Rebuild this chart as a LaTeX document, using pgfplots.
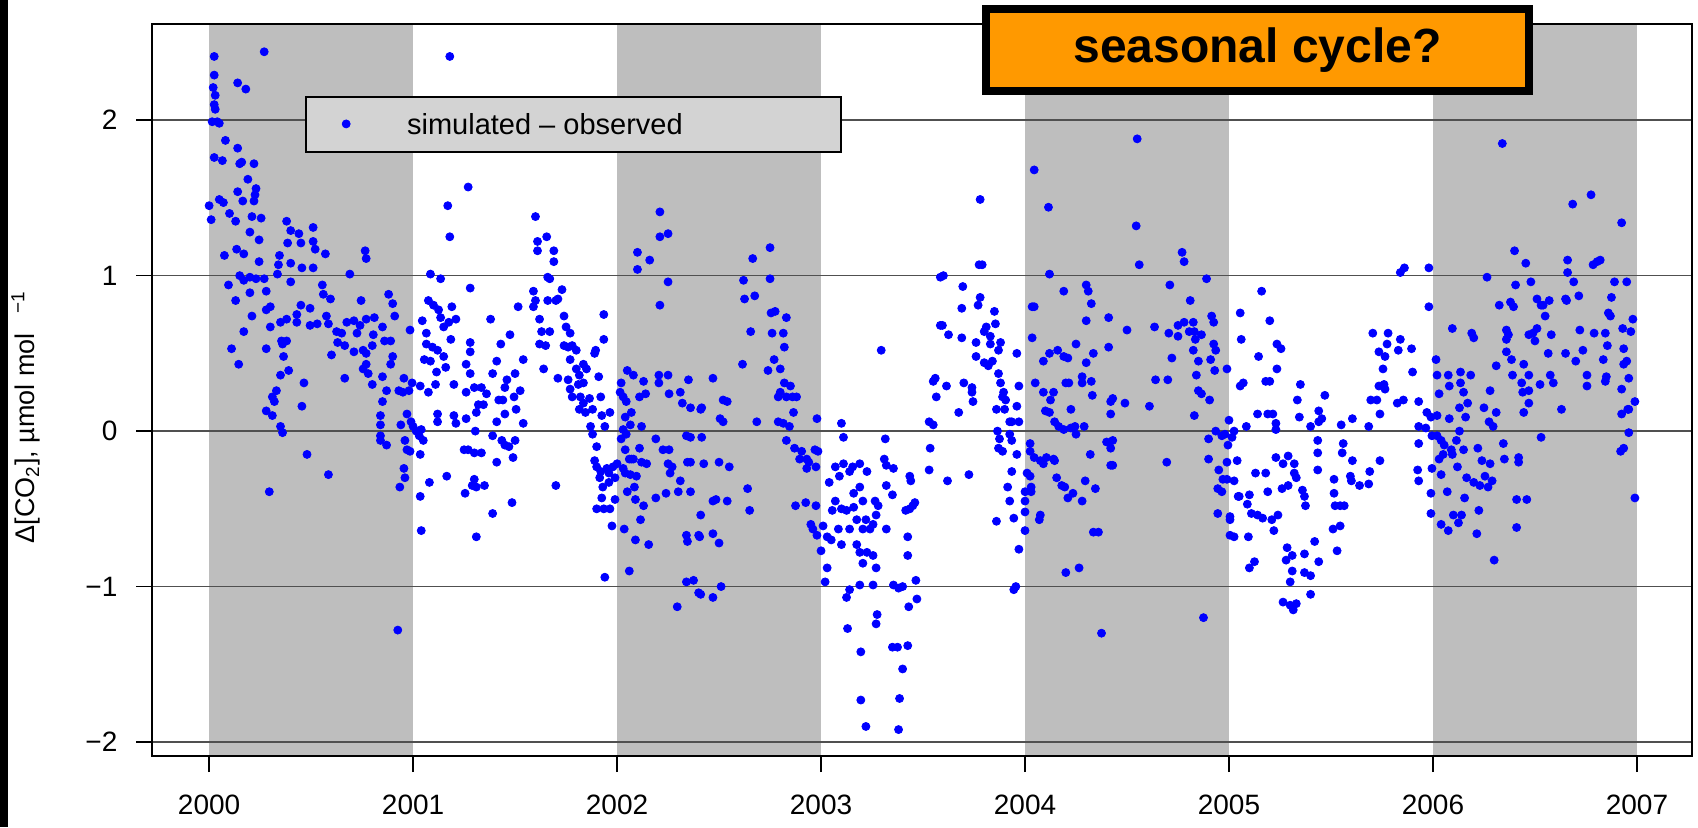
\documentclass[border=0pt]{standalone}
\usepackage{pgfplots}
\pgfplotsset{compat=1.18}
\usepackage{fontspec}
\setmainfont{Liberation Sans}

\definecolor{band}{RGB}{190,190,190}
\definecolor{legfill}{RGB}{211,211,211}
\definecolor{gridc}{RGB}{80,80,80}
\definecolor{orangebox}{RGB}{255,153,0}

\begin{document}
\begin{tikzpicture}
\path[use as bounding box] (-76pt,-35.5pt) rectangle (773pt,378pt);
\fill[black] (-76pt,-35.5pt) rectangle (-72pt,378pt);
\begin{axis}[
  at={(0,0)}, anchor=south west,
  scale only axis, width=770pt, height=366.1pt,
  xmin=1999.72, xmax=2007.27, ymin=-2.09, ymax=2.62,
  xtick={2000,2001,2002,2003,2004,2005,2006,2007},
  xticklabels={2000,2001,2002,2003,2004,2005,2006,2007},
  ytick={-2,-1,0,1,2},
  yticklabels={−2,−1,0,1,2},
  tick align=outside, tick pos=left, major tick length=8pt,
  tick style={black, line width=0.8pt},
  axis line style={black, line width=1pt},
  xticklabel style={font=\fontsize{14}{16}\selectfont, yshift=-8pt},
  yticklabel style={font=\fontsize{14}{16}\selectfont, xshift=-5.8pt},
  axis on top,
  clip=false,
]
% shaded calendar years
\fill[band] (axis cs:2000,-2.09) rectangle (axis cs:2001,2.62);
\fill[band] (axis cs:2002,-2.09) rectangle (axis cs:2003,2.62);
\fill[band] (axis cs:2004,-2.09) rectangle (axis cs:2005,2.62);
\fill[band] (axis cs:2006,-2.09) rectangle (axis cs:2007,2.62);
% horizontal reference lines
\draw[gridc, line width=0.75pt] (axis cs:1999.72,-2) -- (axis cs:2007.27,-2);
\draw[gridc, line width=0.75pt] (axis cs:1999.72,-1) -- (axis cs:2007.27,-1);
\draw[gridc, line width=0.75pt] (axis cs:1999.72,0) -- (axis cs:2007.27,0);
\draw[gridc, line width=0.75pt] (axis cs:1999.72,1) -- (axis cs:2007.27,1);
\draw[gridc, line width=0.75pt] (axis cs:1999.72,2) -- (axis cs:2007.27,2);
% legend
\draw[fill=legfill, line width=1pt] (axis cs:2000.475,1.795) rectangle (axis cs:2003.098,2.149);
\addplot[only marks, mark=*, mark size=2pt, color=blue, forget plot] coordinates {(2000.672,1.976)};
\node[anchor=west, font=\fontsize{14.5}{16}\selectfont] at (axis cs:2000.936,1.976) {simulated – observed};
% simulated minus observed CO2
\addplot[only marks, mark=*, mark size=2pt, color=blue] coordinates {
(2000.025,2.41) (2000.025,2.29) (2000.02,2.21) (2000.03,2.16) (2000.025,2.10) (2000.03,2.07)
(2000.27,2.44) (2000.14,2.24) (2000.18,2.20) (2000.015,1.99) (2000.04,1.99) (2000.05,1.98)
(2000.08,1.87) (2000.14,1.82) (2000.025,1.76) (2000.065,1.74) (2000.15,1.72) (2000.22,1.72)
(2000.16,1.73) (2000.19,1.62) (2000.23,1.56) (2000.225,1.52) (2000.14,1.54) (2000.165,1.48)
(2000.22,1.48) (2000.0,1.45) (2000.05,1.49) (2000.07,1.47) (2000.01,1.36) (2000.10,1.40)
(2000.13,1.35) (2000.21,1.38) (2000.255,1.37) (2000.20,1.28) (2000.245,1.23) (2000.075,1.13)
(2000.135,1.17) (2000.17,1.14) (2000.245,1.09) (2000.095,0.94) (2000.15,1.00) (2000.20,0.99)
(2000.23,0.98) (2000.27,0.98) (2000.17,0.97) (2000.20,0.89) (2000.13,0.84) (2000.21,0.74)
(2000.17,0.64) (2000.11,0.53) (2000.145,0.43)
(2000.38,1.35) (2000.40,1.29) (2000.51,1.31) (2000.44,1.27) (2000.45,1.21) (2000.51,1.22)
(2000.385,1.21) (2000.57,1.14) (2000.52,1.17) (2000.345,1.13) (2000.34,1.07) (2000.40,1.08)
(2000.455,1.05) (2000.51,1.05) (2000.335,1.01) (2000.40,0.96) (2000.28,0.90) (2000.30,0.80)
(2000.28,0.78) (2000.38,0.72) (2000.35,0.70) (2000.43,0.75) (2000.45,0.81) (2000.495,0.79)
(2000.43,0.70) (2000.495,0.68) (2000.53,0.69) (2000.555,0.94) (2000.56,0.88) (2000.595,0.85)
(2000.575,0.74) (2000.585,0.69) (2000.30,0.67) (2000.28,0.53) (2000.355,0.58) (2000.38,0.58)
(2000.36,0.56) (2000.365,0.48) (2000.39,0.39) (2000.35,0.36) (2000.465,0.31) (2000.33,0.26)
(2000.31,0.22) (2000.32,0.19) (2000.28,0.13) (2000.31,0.10) (2000.35,0.03) (2000.36,-0.01)
(2000.455,0.16) (2000.48,-0.15) (2000.585,-0.28) (2000.295,-0.39)
(2000.69,1.01) (2000.765,1.16) (2000.77,1.11) (2000.745,0.84) (2000.675,0.70) (2000.71,0.71)
(2000.74,0.68) (2000.77,0.72) (2000.81,0.73) (2000.625,0.64) (2000.65,0.63) (2000.63,0.57)
(2000.665,0.55) (2000.60,0.49) (2000.71,0.51) (2000.725,0.63) (2000.755,0.52) (2000.77,0.50)
(2000.80,0.55) (2000.805,0.62) (2000.755,0.40) (2000.78,0.37) (2000.77,0.43) (2000.80,0.30)
(2000.665,0.34) (2000.85,0.67) (2000.86,0.58) (2000.88,0.88) (2000.90,0.82) (2000.91,0.74)
(2000.89,0.58) (2000.90,0.48) (2000.89,0.43) (2000.85,0.35) (2000.87,0.26) (2000.85,0.19)
(2000.84,0.10) (2000.84,0.04) (2000.84,-0.03) (2000.87,-0.09) (2000.84,-0.06) (2000.93,0.26)
(2000.955,0.34) (2000.95,0.25) (2000.98,0.26) (2000.995,0.31) (2001.035,0.29) (2000.94,0.04)
(2000.97,0.11) (2000.99,0.06) (2001.00,0.03) (2001.015,0.00) (2001.03,-0.03) (2001.04,0.01)
(2001.05,-0.06) (2000.96,-0.06) (2000.97,-0.12) (2000.985,-0.13) (2000.955,-0.24) (2000.935,-0.36)
(2000.96,-0.30) (2000.985,0.65) (2001.035,-0.15) (2001.035,-0.42) (2001.08,-0.33) (2001.04,-0.64)
(2001.165,-0.29) (2000.925,-1.28) (2001.18,2.41) (2001.17,1.45) (2001.18,1.25) (2001.085,1.01)
(2001.135,0.98) (2001.075,0.84) (2001.10,0.81) (2001.125,0.78) (2001.19,0.80) (2001.045,0.71)
(2001.065,0.63) (2001.135,0.73) (2001.15,0.67) (2001.175,0.70) (2001.21,0.72) (2001.065,0.56)
(2001.095,0.54) (2001.12,0.52) (2001.15,0.48) (2001.185,0.59) (2001.055,0.46) (2001.085,0.45)
(2001.115,0.38) (2001.16,0.41) (2001.20,0.30) (2001.11,0.30) (2001.075,0.25) (2001.12,0.11)
(2001.12,0.06) (2001.20,0.10) (2001.21,0.05)
(2001.27,1.57) (2001.28,0.92) (2001.28,0.57) (2001.28,0.51) (2001.26,0.43) (2001.28,0.37)
(2001.30,0.28) (2001.26,0.25) (2001.335,0.28) (2001.38,0.72) (2001.43,0.56) (2001.475,0.62)
(2001.515,0.80) (2001.54,0.46) (2001.41,0.45) (2001.39,0.37) (2001.36,0.24) (2001.32,0.17)
(2001.345,0.17) (2001.46,0.33) (2001.50,0.37) (2001.525,0.26) (2001.495,0.22) (2001.42,0.20)
(2001.44,0.20) (2001.45,0.28) (2001.54,0.05) (2001.505,0.14) (2001.45,0.11) (2001.41,0.06)
(2001.39,-0.03) (2001.435,-0.06) (2001.45,-0.09) (2001.47,-0.10) (2001.50,-0.06) (2001.49,-0.17)
(2001.41,-0.20) (2001.305,0.00) (2001.26,0.08) (2001.31,0.12) (2001.25,-0.12) (2001.27,-0.12)
(2001.30,-0.14) (2001.335,-0.14) (2001.255,-0.40) (2001.30,-0.31) (2001.29,-0.35) (2001.31,-0.36)
(2001.35,-0.35) (2001.39,-0.53) (2001.485,-0.46) (2001.31,-0.68)
(2001.60,1.38) (2001.61,1.22) (2001.655,1.25) (2001.61,1.16) (2001.69,1.16) (2001.69,1.09)
(2001.59,0.90) (2001.60,0.84) (2001.59,0.80) (2001.66,0.99) (2001.67,0.98) (2001.66,0.84)
(2001.70,0.84) (2001.71,0.85) (2001.73,0.91) (2001.62,0.72) (2001.63,0.64) (2001.67,0.64)
(2001.62,0.56) (2001.65,0.55) (2001.64,0.40) (2001.71,0.34) (2001.74,0.74) (2001.75,0.67)
(2001.77,0.63) (2001.74,0.55) (2001.76,0.54) (2001.78,0.55) (2001.80,0.52) (2001.77,0.46)
(2001.80,0.40) (2001.815,0.36) (2001.76,0.33) (2001.77,0.27) (2001.835,0.43) (2001.85,0.40)
(2001.81,0.30) (2001.835,0.31) (2001.78,0.22) (2001.82,0.22) (2001.835,0.18) (2001.865,0.21)
(2001.815,0.14) (2001.845,0.12) (2001.88,0.14) (2001.895,0.52) (2001.89,0.50) (2001.935,0.75)
(2001.935,0.59) (2001.91,0.35) (2001.92,0.22) (2001.87,0.03) (2001.88,-0.02) (2001.90,-0.10)
(2001.925,0.10) (2001.94,0.03) (2001.965,0.12) (2001.89,-0.19) (2001.90,-0.23) (2001.92,-0.26)
(2001.95,-0.24) (2001.96,-0.27) (2002.00,-0.21) (2001.98,-0.23) (2001.915,-0.30) (2001.93,-0.36)
(2001.96,-0.33) (2001.99,-0.30) (2001.925,-0.43) (2001.90,-0.50) (2001.935,-0.50) (2001.965,-0.50)
(2001.99,-0.44) (2001.975,-0.61) (2001.94,-0.94) (2001.70,-0.35)
(2002.10,1.15) (2002.10,1.04) (2002.16,1.10) (2002.21,1.41) (2002.21,1.25) (2002.25,1.27)
(2002.25,0.96) (2002.21,0.81) (2002.02,0.31) (2002.05,0.39) (2002.08,0.36) (2002.13,0.32)
(2002.205,0.36) (2002.25,0.36) (2002.14,0.24) (2002.11,0.22) (2002.205,0.31) (2002.255,0.24)
(2002.31,0.25) (2002.35,0.33) (2002.32,0.18) (2002.36,0.15) (2002.41,0.14) (2002.015,0.25)
(2002.03,0.22) (2002.045,0.19) (2002.07,0.12) (2002.04,0.09) (2002.03,0.01) (2002.045,-0.02)
(2002.065,0.04) (2002.12,0.03) (2002.19,-0.05) (2002.11,-0.11) (2002.08,-0.18) (2002.02,-0.05)
(2002.04,-0.12) (2002.07,-0.18) (2002.06,-0.18) (2002.03,-0.24) (2002.04,-0.27) (2002.065,-0.28)
(2002.095,-0.29) (2002.12,-0.20) (2002.145,-0.21) (2002.225,-0.12) (2002.255,-0.12) (2002.27,-0.23)
(2002.26,-0.27) (2002.25,-0.21) (2002.345,-0.20) (2002.36,-0.20) (2002.34,-0.03) (2002.36,-0.04)
(2002.085,-0.36) (2002.05,-0.39) (2002.09,-0.44) (2002.13,-0.48) (2002.115,-0.57) (2002.19,-0.43)
(2002.24,-0.40) (2002.30,-0.39) (2002.36,-0.39) (2002.31,-0.32) (2002.035,-0.63) (2002.09,-0.70)
(2002.155,-0.73) (2002.34,-0.67) (2002.345,-0.71) (2002.40,-0.67) (2002.06,-0.90) (2002.34,-0.97)
(2002.375,-0.96) (2002.40,-1.04) (2002.295,-1.13)
(2002.47,0.34) (2002.415,0.15) (2002.52,0.20) (2002.54,0.19) (2002.505,0.08) (2002.52,0.06)
(2002.415,-0.04) (2002.425,-0.21) (2002.50,-0.20) (2002.55,-0.23) (2002.41,-0.54) (2002.47,-0.45)
(2002.485,-0.44) (2002.54,-0.45) (2002.405,-0.68) (2002.47,-0.66) (2002.50,-0.72) (2002.41,-1.05)
(2002.47,-1.07) (2002.51,-1.00) (2002.685,0.06) (2002.64,-0.37) (2002.65,-0.51)
(2002.75,1.18) (2002.665,1.11) (2002.75,0.98) (2002.62,0.97) (2002.625,0.85) (2002.675,0.87)
(2002.655,0.64) (2002.615,0.43) (2002.755,0.76) (2002.775,0.77) (2002.83,0.73) (2002.76,0.63)
(2002.815,0.63) (2002.82,0.54) (2002.77,0.46) (2002.74,0.39) (2002.80,0.40) (2002.82,0.31)
(2002.80,0.25) (2002.85,0.29) (2002.79,0.22) (2002.83,0.22) (2002.86,0.22) (2002.88,0.22)
(2002.865,0.12) (2002.79,0.06) (2002.815,0.05) (2002.845,0.03) (2002.83,-0.06) (2002.87,-0.11)
(2002.905,-0.13) (2002.93,-0.18) (2002.93,-0.24) (2002.895,-0.18) (2002.97,-0.12) (2002.985,-0.13)
(2002.975,-0.23) (2002.94,-0.20) (2002.98,0.08) (2002.875,-0.48) (2002.925,-0.46) (2002.975,-0.48)
(2002.95,-0.60) (2002.96,-0.63) (2002.98,-0.67) (2003.01,-0.61) (2003.03,-0.68) (2003.00,-0.77)
(2003.03,-0.88) (2003.02,-0.97) (2003.04,-0.33) (2003.07,-0.23) (2003.11,-0.21) (2003.155,-0.23)
(2003.19,-0.21) (2003.225,-0.26) (2003.09,-0.29) (2003.14,-0.26) (2003.19,-0.36) (2003.07,-0.45)
(2003.10,-0.50) (2003.125,-0.51) (2003.16,-0.49) (2003.055,-0.51) (2003.05,-0.70) (2003.085,-0.63)
(2003.10,-0.73) (2003.14,-0.63) (2003.175,-0.57) (2003.175,-0.73) (2003.205,-0.63) (2003.24,-0.63)
(2003.10,0.05) (2003.11,-0.04) (2003.16,-0.40) (2003.205,-0.45) (2003.22,-0.57) (2003.265,-0.45)
(2003.28,-0.48) (2003.27,-0.54) (2003.32,-0.63) (2003.255,-0.60) (2003.19,-0.78) (2003.225,-0.78)
(2003.255,-0.80) (2003.205,-0.85) (2003.27,-0.88) (2003.14,-1.02) (2003.125,-1.07) (2003.19,-0.99)
(2003.255,-0.99) (2003.355,-0.99) (2003.38,-1.01) (2003.40,-1.00) (2003.275,-1.18) (2003.27,-1.24)
(2003.13,-1.27) (2003.195,-1.42) (2003.195,-1.73) (2003.22,-1.90) (2003.35,-1.39) (2003.375,-1.39)
(2003.425,-1.38) (2003.40,-1.53) (2003.385,-1.72) (2003.38,-1.92) (2003.295,0.52) (2003.315,-0.05)
(2003.31,-0.18) (2003.32,-0.22) (2003.355,-0.24) (2003.35,-0.41) (2003.32,-0.35) (2003.425,-0.68)
(2003.425,-0.80) (2003.43,-1.13) (2003.465,-0.96) (2003.47,-1.08) (2003.415,-0.51) (2003.435,-0.50)
(2003.45,-0.48) (2003.46,-0.46) (2003.44,-0.32) (2003.435,-0.29) (2003.53,-0.25) (2003.535,-0.11)
(2003.53,0.06) (2003.55,0.04) (2003.56,0.34) (2003.55,0.32) (2003.565,0.22) (2003.585,0.99)
(2003.585,0.68)
(2003.60,1.00) (2003.695,0.93) (2003.69,0.79) (2003.78,1.49) (2003.775,1.07) (2003.79,1.07)
(2003.78,0.86) (2003.77,0.81) (2003.85,0.77) (2003.595,0.68) (2003.625,0.62) (2003.69,0.60)
(2003.76,0.57) (2003.80,0.64) (2003.81,0.67) (2003.855,0.69) (2003.83,0.61) (2003.83,0.56)
(2003.88,0.57) (2003.87,0.52) (2003.76,0.48) (2003.80,0.44) (2003.82,0.42) (2003.84,0.45)
(2003.96,0.50) (2003.615,0.29) (2003.70,0.31) (2003.74,0.28) (2003.74,0.25) (2003.745,0.19)
(2003.675,0.12) (2003.87,0.37) (2003.88,0.31) (2003.895,0.25) (2003.905,0.20) (2003.89,0.22)
(2003.86,0.14) (2003.90,0.14) (2003.96,0.16) (2003.97,0.29) (2003.925,0.06) (2003.935,0.06)
(2003.97,0.06) (2003.865,0.00) (2003.875,-0.05) (2003.925,-0.02) (2003.935,-0.06) (2003.87,-0.11)
(2003.89,-0.13) (2003.96,-0.15) (2003.62,-0.32) (2003.725,-0.28) (2003.935,-0.26) (2003.915,-0.36)
(2003.925,-0.45) (2003.86,-0.58) (2003.945,-0.56) (2003.97,-0.76) (2003.945,-1.02) (2003.955,-1.00)
(2004.045,1.68) (2004.115,1.44) (2004.12,1.01) (2004.035,0.80) (2004.045,0.80) (2004.035,0.60)
(2004.09,0.45) (2004.12,0.50) (2004.16,0.52) (2004.19,0.90) (2004.30,0.94) (2004.31,0.90)
(2004.325,0.82) (2004.30,0.71) (2004.19,0.48) (2004.21,0.47) (2004.25,0.56) (2004.30,0.44)
(2004.335,0.50) (2004.41,0.73) (2004.41,0.54) (2004.50,0.65) (2004.05,0.31) (2004.09,0.25)
(2004.125,0.20) (2004.14,0.25) (2004.10,0.13) (2004.12,0.12) (2004.145,0.06) (2004.165,0.03)
(2004.19,0.01) (2004.20,0.31) (2004.215,0.31) (2004.225,0.14) (2004.28,0.31) (2004.28,0.35)
(2004.325,0.32) (2004.33,0.23) (2004.225,0.02) (2004.245,0.03) (2004.25,-0.02) (2004.29,0.03)
(2004.025,-0.08) (2004.025,-0.13) (2004.045,-0.17) (2004.075,-0.19) (2004.09,-0.21) (2004.105,-0.17)
(2004.01,-0.27) (2004.025,-0.29) (2004.00,-0.39) (2004.03,-0.36) (2004.03,-0.39) (2004.00,-0.45)
(2004.00,-0.52) (2004.00,-0.64) (2004.075,-0.54) (2004.07,-0.57) (2004.14,-0.18) (2004.145,-0.19)
(2004.155,-0.30) (2004.18,-0.35) (2004.195,-0.36) (2004.21,-0.43) (2004.235,-0.40) (2004.28,-0.45)
(2004.295,-0.32) (2004.345,-0.37) (2004.32,-0.15) (2004.335,-0.65) (2004.36,-0.65) (2004.20,-0.91)
(2004.265,-0.88) (2004.375,-1.30) (2004.40,-0.07) (2004.42,-0.11) (2004.43,-0.06) (2004.42,-0.22)
(2004.43,-0.22) (2004.42,0.19) (2004.43,0.21) (2004.49,0.18) (2004.42,0.11) (2004.55,1.88)
(2004.545,1.32) (2004.56,1.07) (2004.61,0.16) (2004.64,0.33) (2004.70,0.33) (2004.635,0.67)
(2004.705,0.63) (2004.72,0.47) (2004.71,0.94) (2004.695,-0.20) (2004.75,0.68) (2004.75,0.61)
(2004.77,1.15) (2004.78,1.09) (2004.81,0.84) (2004.89,0.98) (2004.78,0.70) (2004.825,0.70)
(2004.83,0.64) (2004.805,0.64) (2004.915,0.74) (2004.925,0.70) (2004.865,0.62) (2004.835,0.59)
(2004.825,0.52) (2004.85,0.45) (2004.925,0.56) (2004.935,0.52) (2004.91,0.46) (2004.93,0.39)
(2004.99,0.40) (2004.84,0.36) (2004.85,0.26) (2004.865,0.24) (2004.905,0.20) (2004.83,0.10)
(2004.875,-1.20) (2005.00,0.07) (2004.935,0.00) (2004.90,-0.05) (2004.90,-0.18) (2004.965,-0.03)
(2004.98,-0.02) (2004.995,-0.09) (2005.015,-0.04) (2005.025,0.00) (2004.95,-0.25) (2004.97,-0.31)
(2004.965,-0.39) (2004.945,-0.37) (2004.99,-0.20) (2004.99,-0.31) (2005.025,-0.32) (2005.05,-0.42)
(2005.005,-0.55) (2005.005,-0.57) (2005.025,-0.68) (2005.005,-0.67) (2004.945,-0.53) (2005.04,-0.19)
(2005.085,0.03) (2005.055,0.76) (2005.06,0.59) (2005.055,0.29) (2005.07,0.31) (2005.16,0.90)
(2005.145,0.48) (2005.20,0.71) (2005.235,0.56) (2005.255,0.53) (2005.235,0.40) (2005.18,0.32)
(2005.20,0.32) (2005.14,0.11) (2005.19,0.11) (2005.215,0.11) (2005.23,0.05) (2005.23,0.01)
(2005.23,-0.17) (2005.265,-0.21) (2005.29,-0.16) (2005.32,-0.21) (2005.32,-0.27) (2005.33,-0.30)
(2005.13,-0.27) (2005.18,-0.27) (2005.19,-0.39) (2005.26,-0.37) (2005.29,-0.35) (2005.045,-0.42)
(2005.10,-0.41) (2005.09,-0.47) (2005.11,-0.53) (2005.14,-0.54) (2005.165,-0.56) (2005.21,-0.57)
(2005.24,-0.54) (2005.22,-0.64) (2005.095,-0.68) (2005.125,-0.84) (2005.10,-0.88) (2005.285,-0.75)
(2005.28,-0.83) (2005.31,-0.80) (2005.31,-0.90) (2005.37,-0.79) (2005.37,-0.91) (2005.40,-0.93)
(2005.44,-0.84) (2005.42,-0.71) (2005.30,-0.97) (2005.265,-1.10) (2005.30,-1.12) (2005.315,-1.15)
(2005.33,-1.11) (2005.40,-1.05) (2005.335,0.20) (2005.35,0.30) (2005.345,0.09) (2005.36,-0.38)
(2005.37,-0.42) (2005.375,-0.48) (2005.40,0.03) (2005.44,0.13) (2005.44,0.06) (2005.455,0.08)
(2005.47,0.23) (2005.435,-0.06) (2005.435,-0.14) (2005.435,-0.25) (2005.515,-0.31) (2005.515,-0.40)
(2005.52,-0.48) (2005.545,-0.48) (2005.565,-0.48) (2005.51,-0.63) (2005.545,-0.61) (2005.53,-0.77)
(2005.55,0.04) (2005.56,-0.08) (2005.555,-0.14) (2005.605,0.08) (2005.605,-0.19) (2005.595,-0.29)
(2005.60,-0.32) (2005.64,-0.35) (2005.685,-0.34) (2005.69,-0.26) (2005.685,0.03) (2005.74,-0.19)
(2005.74,0.11) (2005.695,0.20) (2005.725,0.20) (2005.705,0.63) (2005.78,0.63) (2005.735,0.51)
(2005.765,0.48) (2005.775,0.56) (2005.83,0.52) (2005.755,0.40) (2005.735,0.29) (2005.765,0.27)
(2005.76,0.30) (2005.84,0.59) (2005.895,0.53) (2005.90,0.38) (2005.825,0.18) (2005.855,0.20)
(2005.84,1.02) (2005.86,1.05) (2005.93,0.19) (2005.93,0.03) (2005.93,-0.08) (2005.925,-0.25)
(2005.93,-0.32)
(2005.98,1.05) (2005.98,0.80) (2005.97,0.12) (2005.99,0.09) (2006.02,0.10)
(2005.965,0.02) (2005.995,-0.03) (2005.995,-0.24)
(2005.99,-0.40) (2005.99,-0.53) (2006.015,0.46) (2006.02,0.36) (2006.03,0.24) (2006.08,0.29)
(2006.075,0.36) (2006.08,0.08) (2006.095,0.66) (2006.135,0.38) (2006.185,0.36) (2006.135,0.31)
(2006.15,0.25) (2006.17,0.18) (2006.13,0.15) (2006.16,0.09) (2006.02,-0.03) (2006.04,-0.06)
(2006.055,-0.09) (2006.09,-0.12) (2006.115,-0.06) (2006.13,0.00) (2006.15,-0.12) (2006.03,-0.18)
(2006.05,-0.15) (2006.095,-0.15) (2006.04,-0.28) (2006.07,-0.39) (2006.12,-0.23) (2006.155,-0.43)
(2006.14,-0.54) (2006.10,-0.54) (2006.125,-0.59) (2006.04,-0.60) (2006.075,-0.64) (2006.165,-0.30)
(2006.20,-0.33) (2006.23,-0.35) (2006.22,-0.11) (2006.19,0.63) (2006.20,0.60) (2006.215,-0.66)
(2006.225,-0.51) (2006.265,0.99) (2006.28,0.26) (2006.25,0.15) (2006.31,0.12) (2006.275,0.06)
(2006.295,0.03) (2006.31,0.42) (2006.24,-0.19) (2006.28,-0.21) (2006.255,-0.29) (2006.29,-0.32)
(2006.27,-0.36) (2006.30,-0.83) (2006.34,1.85) (2006.325,0.81) (2006.38,0.83) (2006.395,0.80)
(2006.36,0.65) (2006.37,0.62) (2006.36,0.59) (2006.36,0.51) (2006.385,0.46) (2006.39,0.36)
(2006.345,-0.08) (2006.35,-0.18) (2006.40,1.16) (2006.405,0.94) (2006.41,-0.44) (2006.41,-0.62)
(2006.42,-0.17) (2006.42,-0.20) (2006.455,1.08) (2006.48,0.96) (2006.445,0.43) (2006.47,0.36)
(2006.435,0.31) (2006.44,0.25) (2006.47,0.26) (2006.47,0.18) (2006.445,0.12) (2006.46,-0.44)
(2006.47,0.62) (2006.49,0.63) (2006.50,0.58) (2006.51,0.66) (2006.51,0.85) (2006.53,0.81)
(2006.55,0.74) (2006.57,0.84) (2006.54,0.81) (2006.525,0.30) (2006.565,0.50) (2006.53,-0.04)
(2006.58,0.62) (2006.59,0.31) (2006.575,0.36) (2006.63,0.14) (2006.65,0.50) (2006.655,0.84)
(2006.65,0.85) (2006.66,1.10) (2006.66,1.02) (2006.685,1.46) (2006.775,1.52) (2006.69,0.96)
(2006.715,0.87) (2006.70,0.45) (2006.72,0.65) (2006.735,0.52) (2006.755,0.36) (2006.755,0.29)
(2006.79,0.63) (2006.785,1.07) (2006.805,1.09) (2006.82,1.10) (2006.835,0.46) (2006.845,0.32)
(2006.85,0.35) (2006.845,0.63) (2006.855,0.55) (2006.86,0.76) (2006.87,0.74) (2006.875,0.86)
(2006.89,0.96) (2006.925,1.34) (2006.93,0.66) (2006.935,0.53) (2006.925,0.27) (2006.935,0.43)
(2006.95,0.96) (2006.95,0.45) (2006.96,0.34) (2006.96,0.14) (2006.96,-0.01) (2006.92,-0.13)
(2006.935,-0.11) (2006.97,0.64) (2006.98,0.72) (2006.99,0.19) (2006.99,-0.43) (2006.925,0.11)
(2006.955,0.14)
};
% anchor points for the annotation box
\coordinate (obSW) at (axis cs:2003.809,2.187);
\coordinate (obNE) at (axis cs:2006.471,2.716);
\coordinate (obC) at (axis cs:2005.14,2.452);
\end{axis}
% annotation box drawn over the frame
\draw[fill=orangebox, line width=4pt] (obSW) rectangle (obNE);
\node[font=\bfseries\fontsize{24}{28}\selectfont] at (obC) {seasonal cycle?};
% y axis title
\node[rotate=90, font=\fontsize{13.5}{15}\selectfont] at (-63pt,169.5pt)
  {Δ[CO\textsubscript{2}], µmol mol\hspace{10pt}\textsuperscript{−1}};
\end{tikzpicture}
\end{document}
